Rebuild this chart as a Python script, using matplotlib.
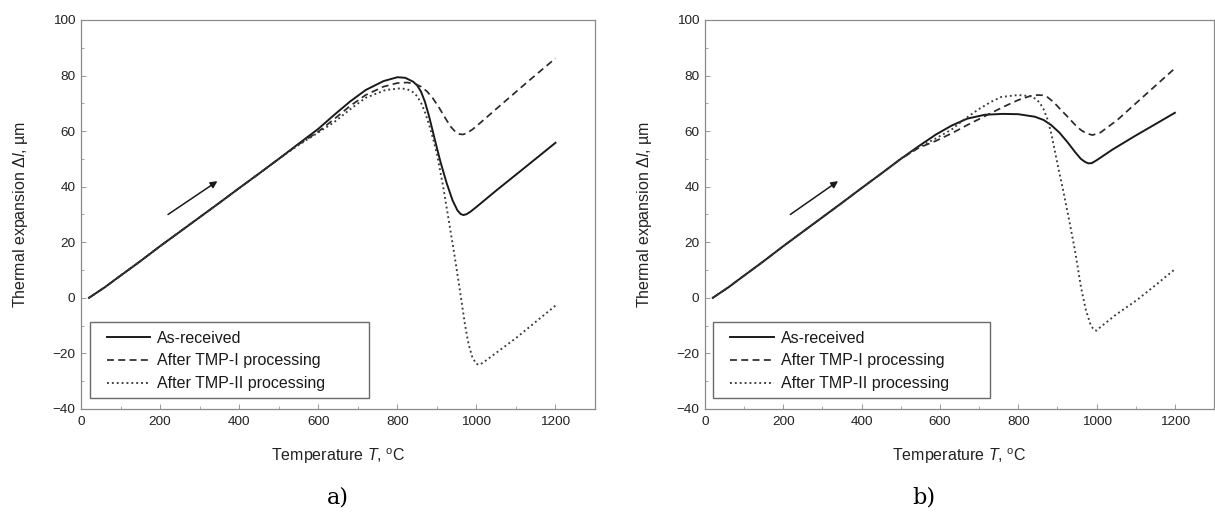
import matplotlib
matplotlib.use("Agg")
import matplotlib.pyplot as plt
from matplotlib.patches import Rectangle
from matplotlib.ticker import MultipleLocator

plt.rcParams['font.family'] = ['Liberation Sans', 'DejaVu Sans']
plt.rcParams['mathtext.fontset'] = 'custom'
plt.rcParams['mathtext.rm'] = 'Liberation Sans'
plt.rcParams['mathtext.it'] = 'Liberation Sans:italic'

# common start of all curves (same for both panels)
t_start = [20, 60, 100, 150, 200, 250, 300, 350, 400, 450, 500]
v_start = [0, 3.8, 8, 13.2, 18.6, 23.8, 29, 34.2, 39.5, 44.7, 50]

# panel a)
a_solid_t = [546, 600, 640, 680, 720, 765, 800, 820, 840, 850, 860, 870, 880, 891, 900, 910, 925,
             940, 952, 960, 967, 975, 985, 1000, 1050, 1120, 1200]
a_solid_v = [55, 60.8, 65.8, 70.6, 74.8, 78, 79.4, 79.2, 77.8, 76.5, 74.2, 70.5, 65.5, 59.2, 54, 48.5,
             41.2, 35, 31.5, 30.2, 29.8, 30.1, 31, 32.7, 38.6, 46.6, 55.8]

a_dash_t = [546, 600, 640, 680, 720, 765, 800, 825, 845, 860, 875, 890, 905, 920, 935, 948, 958,
            966, 975, 990, 1010, 1060, 1130, 1200]
a_dash_v = [54.8, 59.8, 64.3, 69, 73, 76, 77.3, 77.5, 77, 76, 74.3, 71.8, 68.6, 65, 61.6, 59.6, 58.9,
            58.8, 59.2, 60.6, 63, 69.2, 77.8, 86.2]

a_dot_t = [546, 600, 640, 680, 720, 770, 807, 825, 840, 850, 860, 870, 880, 890, 900, 916, 930, 945,
           958, 971, 980, 990, 1000, 1008, 1020, 1100, 1200]
a_dot_v = [54.6, 59.5, 63.2, 67.8, 72, 74.8, 75.4, 75.1, 74, 72.6, 70.2, 66.8, 62.5, 57.5, 52, 40, 28,
           15, 3, -9.5, -16.5, -21.5, -23.8, -24.1, -23, -14.5, -2.8]

# panel b)
b_solid_t = [546, 590, 630, 670, 715, 760, 800, 842, 865, 884, 905, 926, 945, 960, 972, 980, 988,
             1000, 1040, 1095, 1150, 1200]
b_solid_v = [54.6, 58.8, 62, 64.5, 65.9, 66.2, 66.1, 65.2, 64, 62.2, 59.5, 56, 52.5, 50, 48.8, 48.4, 48.5,
             49.5, 53.3, 58, 62.5, 66.6]

b_dash_t = [546, 590, 630, 670, 715, 760, 800, 830, 850, 862, 875, 890, 910, 926, 945, 960, 975, 990,
            1010, 1053, 1120, 1200]
b_dash_v = [54, 56.5, 59.2, 62.2, 65.4, 68.6, 71.2, 72.6, 73, 72.9, 72.2, 70.5, 67.5, 65.2, 62.3, 60.4,
            59.1, 58.6, 59.5, 64, 72.5, 82.6]

b_dot_t = [546, 590, 630, 660, 698, 730, 757, 800, 830, 845, 855, 865, 875, 885, 895, 905, 915, 930,
           945, 960, 972, 985, 993, 1000, 1010, 1050, 1103, 1150, 1200]
b_dot_v = [54.2, 57.4, 60.6, 64, 67.8, 70.5, 72.3, 73, 72.6, 71.6, 70.2, 67.8, 64.2, 58.8, 51.8, 45, 38.5,
           28, 17, 4, -4, -9.8, -11.5, -11.8, -10.5, -6, -0.8, 4.5, 10.3]

labels = ['As-received', 'After TMP-I processing', 'After TMP-II processing']
arrow_a = [(220, 30), (345, 42)]
arrow_b = [(218, 30), (340, 42)]

fig = plt.figure(figsize=(12.15, 5.22), dpi=100)
ax1 = fig.add_axes([0.0667, 0.2165, 0.4230, 0.7452])
ax2 = fig.add_axes([0.5802, 0.2165, 0.4190, 0.7452])

panels = [
    (ax1, a_solid_t, a_solid_v, a_dash_t, a_dash_v, a_dot_t, a_dot_v, arrow_a),
    (ax2, b_solid_t, b_solid_v, b_dash_t, b_dash_v, b_dot_t, b_dot_v, arrow_b),
]

for ax, st, sv, dt, dv, pt, pv, arr in panels:
    ax.plot(t_start + st, v_start + sv, color='#1a1a1a', lw=1.4, ls='-', label=labels[0])
    ax.plot(t_start + dt, v_start + dv, color='#2a2a2a', lw=1.25, ls=(0, (4, 2.5)), label=labels[1])
    ax.plot(t_start + pt, v_start + pv, color='#3a3a3a', lw=1.35, ls=(0, (1, 1.6)), label=labels[2])

    ax.annotate('', xy=arr[1], xytext=arr[0],
                arrowprops=dict(arrowstyle='-|>', color='#1a1a1a', lw=1.1,
                                mutation_scale=10, shrinkA=0, shrinkB=0))

    ax.set_xlim(0, 1300)
    ax.set_ylim(-40, 100)
    ax.xaxis.set_major_locator(MultipleLocator(200))
    ax.xaxis.set_minor_locator(MultipleLocator(100))
    ax.yaxis.set_major_locator(MultipleLocator(20))
    ax.yaxis.set_minor_locator(MultipleLocator(10))
    ax.set_xticks([0, 200, 400, 600, 800, 1000, 1200])
    ax.tick_params(which='both', direction='in', color='#999999', labelcolor='#222222',
                   labelsize=9.7)
    ax.tick_params(which='major', length=3.5, width=0.7)
    ax.tick_params(which='minor', length=2, width=0.6)
    ax.tick_params(axis='x', pad=5)
    ax.tick_params(axis='y', pad=4)
    for sp in ax.spines.values():
        sp.set_color('#8a8a8a')
        sp.set_linewidth(0.9)

    ax.set_xlabel(r'Temperature $T$, $^{\rm o}$C', fontsize=11.5, color='#222222', labelpad=13)
    ax.set_ylabel(r'Thermal expansion $\Delta\it{l}$, µm', fontsize=11.5, color='#222222',
                  labelpad=16)

    leg = ax.legend(loc='lower left', bbox_to_anchor=(0.05, 0.045), frameon=False,
                    fontsize=11.5, handlelength=2.7, handletextpad=0.45, labelspacing=0.5,
                    borderpad=0, borderaxespad=0)
    for txt in leg.get_texts():
        txt.set_color('#1a1a1a')
    ax.add_patch(Rectangle((0.0165, 0.028), 0.543, 0.196, transform=ax.transAxes,
                           fill=False, edgecolor='#6a6a6a', lw=1.0, zorder=4))

fig.text(0.278, 0.046, 'a)', fontsize=16, family='DejaVu Serif', ha='center', va='center')
fig.text(0.760, 0.046, 'b)', fontsize=16, family='DejaVu Serif', ha='center', va='center')

fig.savefig('out.png', dpi=100)
